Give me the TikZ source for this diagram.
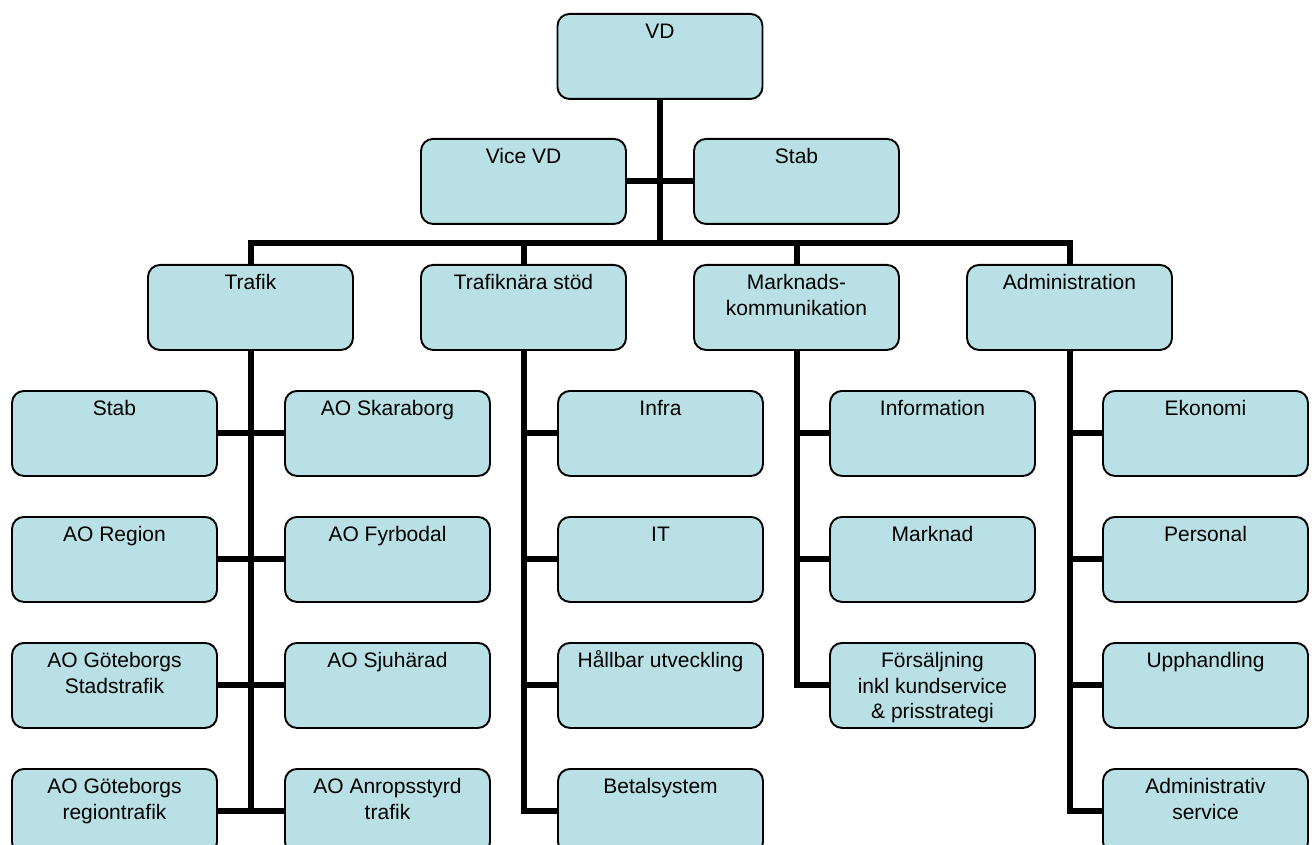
\documentclass[tikz,border=0pt]{standalone}
\usepackage{fontspec}
\setmainfont{Liberation Sans}
\definecolor{boxblue}{RGB}{185,224,228}
\newcommand{\orgtext}[1]{\parbox[t][42.5pt][t]{102.5pt}{\centering\rule{0pt}{12.5pt}#1}}

\begin{document}
\begin{tikzpicture}[x=0.5pt, y=-0.5pt,
  orgbox/.style={draw=black, line width=0.95pt, fill=boxblue, rounded corners=6pt,
    inner sep=0pt, anchor=north, font=\fontsize{10.5pt}{12.6pt}\selectfont},
  conn/.style={line width=3pt}]
\useasboundingbox (0,0) rectangle (1312,845);
% Top levels:
\node[orgbox] (vd) at (660,13) {\orgtext{VD}};
\node[orgbox] (vvd) at (523.5,138) {\orgtext{Vice VD}};
\node[orgbox] (stab) at (796.5,138) {\orgtext{Stab}};
\node[orgbox] (traf) at (250.5,264) {\orgtext{Trafik}};
\node[orgbox] (tns) at (523.5,264) {\orgtext{Trafiknära stöd}};
\node[orgbox] (mk) at (796.5,264) {\orgtext{Marknads-\\kommunikation}};
\node[orgbox] (adm) at (1069.5,264) {\orgtext{Administration}};
% Trafik:
\node[orgbox] (t1) at (114.5,390) {\orgtext{Stab}};
\node[orgbox] (t2) at (387.5,390) {\orgtext{AO Skaraborg}};
\node[orgbox] (t3) at (114.5,516) {\orgtext{AO Region}};
\node[orgbox] (t4) at (387.5,516) {\orgtext{AO Fyrbodal}};
\node[orgbox] (t5) at (114.5,642) {\orgtext{AO Göteborgs\\Stadstrafik}};
\node[orgbox] (t6) at (387.5,642) {\orgtext{AO Sjuhärad}};
\node[orgbox] (t7) at (114.5,768) {\orgtext{AO Göteborgs\\regiontrafik}};
\node[orgbox] (t8) at (387.5,768) {\orgtext{AO Anropsstyrd\\trafik}};
% Trafiknära stöd:
\node[orgbox] (s1) at (660.5,390) {\orgtext{Infra}};
\node[orgbox] (s2) at (660.5,516) {\orgtext{IT}};
\node[orgbox] (s3) at (660.5,642) {\orgtext{Hållbar utveckling}};
\node[orgbox] (s4) at (660.5,768) {\orgtext{Betalsystem}};
% Marknadskommunikation:
\node[orgbox] (m1) at (932.5,390) {\orgtext{Information}};
\node[orgbox] (m2) at (932.5,516) {\orgtext{Marknad}};
\node[orgbox] (m3) at (932.5,642) {\orgtext{Försäljning\\inkl kundservice\\\& prisstrategi}};
% Administration:
\node[orgbox] (a1) at (1205.5,390) {\orgtext{Ekonomi}};
\node[orgbox] (a2) at (1205.5,516) {\orgtext{Personal}};
\node[orgbox] (a3) at (1205.5,642) {\orgtext{Upphandling}};
\node[orgbox] (a4) at (1205.5,768) {\orgtext{Administrativ\\service}};
% Connectors:
\coordinate (bar) at (660,243);
\draw[conn] (vd.south) -- (bar);
\draw[conn] (vvd.east) -- (stab.west);
\draw[conn] (traf.north) -- (traf.north |- bar) -- (adm.north |- bar) -- (adm.north);
\draw[conn] (tns.north) -- (tns.north |- bar);
\draw[conn] (mk.north) -- (mk.north |- bar);
\draw[conn] (traf.south) -- (traf.south |- t7.east);
\draw[conn] (t1.east) -- (t2.west);
\draw[conn] (t3.east) -- (t4.west);
\draw[conn] (t5.east) -- (t6.west);
\draw[conn] (t7.east) -- (t8.west);
\draw[conn] (tns.south) |- (s4.west);
\foreach \n in {s1,s2,s3} \draw[conn] (tns.south |- \n.west) -- (\n.west);
\draw[conn] (mk.south) |- (m3.west);
\foreach \n in {m1,m2} \draw[conn] (mk.south |- \n.west) -- (\n.west);
\draw[conn] (adm.south) |- (a4.west);
\foreach \n in {a1,a2,a3} \draw[conn] (adm.south |- \n.west) -- (\n.west);
\end{tikzpicture}
\end{document}
